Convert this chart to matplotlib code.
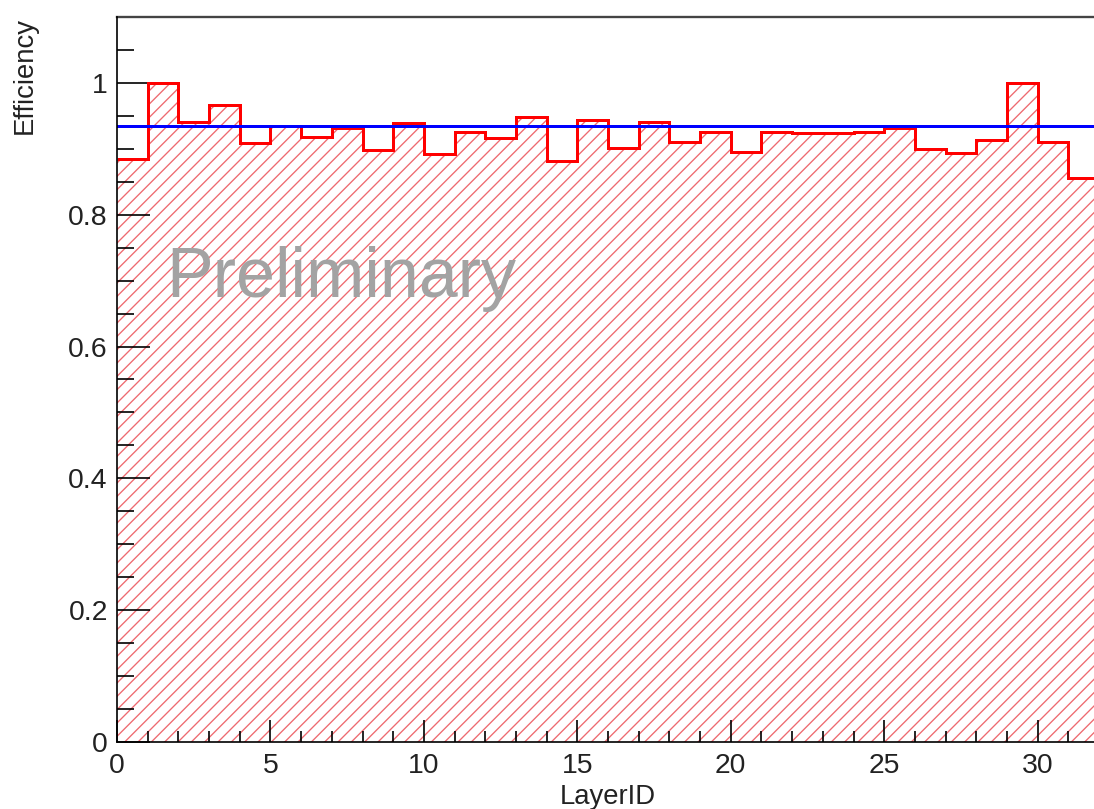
import numpy as np
import matplotlib
matplotlib.use("Agg")
import matplotlib.pyplot as plt
from matplotlib.ticker import MultipleLocator

# ---- data ----
layer_edges = list(range(0, 33))
efficiency = [0.885, 1.000, 0.941, 0.967, 0.909, 0.935, 0.918, 0.932,
              0.898, 0.939, 0.892, 0.926, 0.916, 0.948, 0.882, 0.943,
              0.901, 0.941, 0.910, 0.926, 0.895, 0.926, 0.924, 0.924,
              0.926, 0.931, 0.900, 0.893, 0.914, 1.000, 0.910, 0.855]
fit_value = 0.935
x_label = "LayerID"
y_label = "Efficiency"
watermark = "Preliminary"

plt.rcParams['font.family'] = ['Liberation Sans', 'DejaVu Sans']
plt.rcParams['hatch.linewidth'] = 0.8

DPI = 120
fig = plt.figure(figsize=(1094 / DPI, 809 / DPI), dpi=DPI)
fig.patch.set_facecolor('white')
ax = fig.add_axes([117 / 1094, 67 / 809, (1099 - 117) / 1094, 725 / 809])

# hatched fill
ax.stairs(efficiency, layer_edges, fill=True, facecolor='none',
          edgecolor='#ee6a70', hatch='///', linewidth=0, baseline=0)
# outline
ax.stairs(efficiency, layer_edges, fill=False, color='#ff0000',
          linewidth=1.8, baseline=None, zorder=4)
# constant fit
ax.plot([layer_edges[0], layer_edges[-1]], [fit_value, fit_value],
        color='#0000ff', linewidth=1.8, zorder=5)

ax.text(1.6, 0.675, watermark, fontsize=42, color='#a3a3a3',
        ha='left', va='baseline', zorder=6)

ax.set_xlim(0, 32)
ax.set_ylim(0, 1.1)

ax.xaxis.set_major_locator(MultipleLocator(5))
ax.xaxis.set_minor_locator(MultipleLocator(1))
ax.yaxis.set_major_locator(MultipleLocator(0.2))
ax.yaxis.set_minor_locator(MultipleLocator(0.05))
ax.yaxis.set_major_formatter(plt.FuncFormatter(lambda v, p: f"{v:g}"))

ax.tick_params(axis='both', which='both', direction='in', top=False,
               right=False, colors='black', labelsize=17)
ax.tick_params(axis='y', which='major', length=20, width=1.0, pad=5.5)
ax.tick_params(axis='y', which='minor', length=10, width=1.0)
ax.tick_params(axis='x', which='major', length=13, width=1.0, pad=6.5)
ax.tick_params(axis='x', which='minor', length=6.5, width=1.0)
for lab in ax.get_xticklabels() + ax.get_yticklabels():
    lab.set_color('#222222')

ax.set_xlabel(x_label, fontsize=16.5, color='#222222')
ax.xaxis.set_label_coords(0.5, -0.058)
ax.set_ylabel(y_label, fontsize=16.5, loc='top', color='#222222')
ax.yaxis.set_label_coords(-0.081, 1.0)

for s in ['left', 'bottom']:
    ax.spines[s].set_linewidth(1.0)
    ax.spines[s].set_color('black')
    ax.spines[s].set_zorder(7)
ax.spines['top'].set_linewidth(1.4)
ax.spines['top'].set_color('#444444')
ax.spines['right'].set_linewidth(1.0)

fig.savefig('out.png', dpi=DPI)
